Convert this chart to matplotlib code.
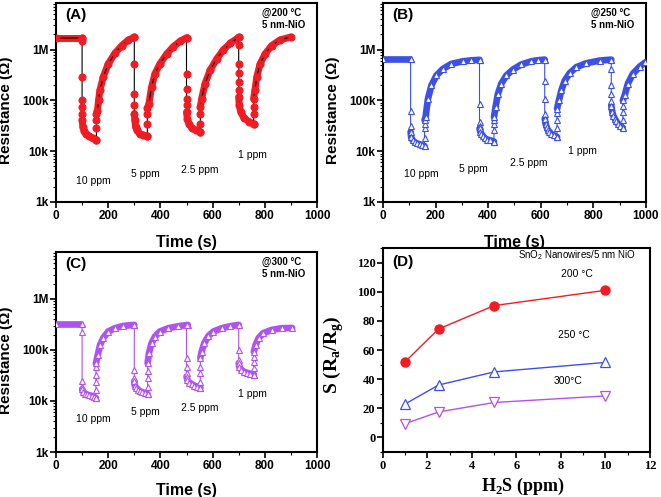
import matplotlib
matplotlib.use("Agg")
import matplotlib.pyplot as plt
from matplotlib.ticker import FixedLocator, MultipleLocator, LogLocator, NullFormatter

plt.rcParams['font.family'] = ['Liberation Sans', 'DejaVu Sans']

# ---- panel A : 200 C, red circles ----
A_BASE_T = [0, 100]
A_BASE_R = [1.70e6, 1.70e6]
A_ON = [100, 300, 500, 700]
A_DROP = [[1.70e6, 1.45e6, 290e3, 100e3, 74e3, 53e3, 41e3],
          [1.75e6, 525e3, 135e3, 80e3, 55e3],
          [1.72e6, 325e3, 170e3, 108e3, 80e3, 59e3],
          [1.78e6, 1.25e6, 525e3, 350e3, 230e3, 157e3, 117e3]]
A_TAIL_T = [[103, 108, 115, 125, 140, 155],
            [302, 305, 310, 320, 335, 350],
            [503, 510, 520, 535, 553],
            [702, 708, 720, 740, 757]]
A_TAIL_R = [[30e3, 25e3, 22e3, 20e3, 18e3, 17e3],
            [41e3, 30e3, 26e3, 22e3, 20.5e3, 19.5e3],
            [44e3, 34e3, 29e3, 26e3, 24e3],
            [80e3, 59e3, 45e3, 38e3, 34e3]]
A_OFF = [155, 350, 553, 757]
A_JUMP = [[17e3, 28e3, 41e3, 55e3],
          [19.5e3, 35e3, 55e3, 70e3],
          [24e3, 35e3, 55e3, 74e3],
          [34e3, 55e3, 74e3, 108e3]]
A_REC_T = [[159, 163, 168, 181, 200, 226, 252, 277, 300],
           [356, 366, 379, 398, 424, 449, 475, 500],
           [558, 571, 590, 616, 641, 667, 700],
           [762, 769, 782, 801, 826, 858, 900]]
A_REC_R = [[63e3, 100e3, 157e3, 287e3, 525e3, 850e3, 1.2e6, 1.55e6, 1.75e6],
           [86e3, 182e3, 334e3, 525e3, 823e3, 1.14e6, 1.46e6, 1.72e6],
           [108e3, 214e3, 390e3, 660e3, 990e3, 1.33e6, 1.75e6],
           [157e3, 287e3, 525e3, 823e3, 1.2e6, 1.55e6, 1.78e6]]

# ---- panel B : 250 C, blue triangles ----
B_BASE_T = [0, 105]
B_BASE_R = [640e3, 640e3]
B_ON = [105, 367, 615, 868]
B_DROP = [[640e3, 63e3, 31e3, 24e3],
          [630e3, 86e3, 38e3, 32e3, 28e3],
          [636e3, 245e3, 108e3, 55e3, 44e3],
          [636e3, 418e3, 197e3, 131e3, 97e3, 79e3]]
B_TAIL_T = [[107, 113, 120, 130, 140, 150, 158],
            [370, 374, 380, 387, 395, 406, 422],
            [618, 622, 627, 633, 640, 650, 662],
            [872, 876, 881, 887, 893, 902, 912]]
B_TAIL_R = [[19e3, 16.5e3, 15e3, 14.2e3, 13.6e3, 13e3, 12.6e3],
            [24e3, 22e3, 20e3, 18e3, 17e3, 16.5e3, 15.5e3],
            [35e3, 30e3, 26e3, 24e3, 22e3, 20.5e3, 19e3],
            [59e3, 50e3, 44e3, 39e3, 35e3, 32e3, 29e3]]
B_OFF = [158, 422, 662, 912]
B_JUMP = [[12.6e3, 18e3, 28e3, 35e3, 41e3],
          [15.5e3, 26e3, 35e3, 41e3, 47e3],
          [19e3, 28e3, 41e3, 56e3, 69e3],
          [29e3, 41e3, 59e3, 79e3, 100e3]]
B_REC_T = [[162, 171, 184, 203, 228, 260, 304, 335, 367],
           [428, 437, 450, 469, 494, 526, 564, 590, 615],
           [669, 678, 691, 710, 735, 773, 824, 868],
           [919, 931, 950, 976, 998]]
B_REC_R = [[47e3, 108e3, 197e3, 310e3, 418e3, 525e3, 590e3, 615e3, 630e3],
           [74e3, 135e3, 214e3, 310e3, 405e3, 510e3, 590e3, 620e3, 636e3],
           [100e3, 157e3, 245e3, 345e3, 452e3, 540e3, 610e3, 636e3],
           [126e3, 214e3, 334e3, 464e3, 565e3]]

# ---- panel C : 300 C, violet triangles ----
C_BASE_T = [0, 100]
C_BASE_R = [320e3, 320e3]
C_ON = [100, 300, 500, 700]
C_DROP = [[320e3, 230e3, 24.5e3, 19e3, 17e3],
          [310e3, 40.5e3, 28e3, 24.5e3],
          [310e3, 69e3, 47e3, 35e3, 30e3],
          [310e3, 100e3, 63e3, 55e3]]
C_TAIL_T = [[105, 110, 117, 127, 137, 145, 153],
            [302, 308, 315, 322, 331, 340, 351],
            [503, 510, 520, 530, 542, 553],
            [702, 710, 720, 730, 742, 758]]
C_TAIL_R = [[15e3, 14e3, 13.5e3, 13e3, 12.6e3, 12e3, 11.5e3],
            [20e3, 18e3, 16.6e3, 15.6e3, 14.9e3, 14.2e3, 13.5e3],
            [26e3, 23e3, 21.5e3, 20e3, 19e3, 18.3e3],
            [47e3, 40.5e3, 37.5e3, 36e3, 34.5e3, 33e3]]
C_OFF = [153, 351, 553, 758]
C_JUMP = [[11.5e3, 16.6e3, 24e3, 32e3, 47e3, 55e3],
          [13.5e3, 19e3, 28e3, 38e3, 55e3],
          [18.3e3, 24e3, 35e3, 47e3, 69e3],
          [33e3, 44e3, 59e3, 74e3, 93e3]]
C_REC_T = [[160, 169, 182, 200, 226, 258, 300],
           [356, 366, 379, 398, 430, 469, 505],
           [558, 568, 584, 603, 635, 667, 700],
           [765, 776, 794, 826, 864, 905]]
C_REC_R = [[80e3, 126e3, 175e3, 230e3, 267e3, 296e3, 310e3],
           [86e3, 135e3, 183e3, 230e3, 267e3, 292e3, 310e3],
           [93e3, 135e3, 188e3, 230e3, 267e3, 292e3, 310e3],
           [126e3, 170e3, 214e3, 247e3, 267e3, 270e3]]

# ---- panel D : sensitivity ----
D_PPM = [1, 2.5, 5, 10]
D_S200 = [52, 74.5, 90.5, 101]
D_S250 = [23, 36, 45, 51.5]
D_S300 = [9.5, 17.5, 24, 28.5]

PPM_LABELS = ['10 ppm', '5 ppm', '2.5 ppm', '1 ppm']

RED = '#f01c24'
BLUE = '#3c50e6'
VIOLET = '#b052f0'


def draw_response(ax, base_t, base_r, on, drop, tail_t, tail_r, off, jump,
                  rec_t, rec_r, color, line_color, marker, mfc, ms, band):
    t_all = list(base_t)
    r_all = list(base_r)
    ax.plot(base_t, base_r, color=color, lw=band, solid_capstyle='butt', zorder=2)
    for i in range(len(on)):
        t_all += [on[i]] * len(drop[i]) + tail_t[i] + [off[i]] * len(jump[i]) + rec_t[i]
        r_all += drop[i] + tail_r[i] + jump[i] + rec_r[i]
        ax.plot([on[i]] + tail_t[i], [drop[i][-1]] + tail_r[i], color=color, lw=band,
                solid_capstyle='round', zorder=2)
        ax.plot([off[i]] + rec_t[i], [jump[i][-1]] + rec_r[i], color=color, lw=band,
                solid_capstyle='round', zorder=2)
    ax.plot(t_all, r_all, color=line_color, lw=0.8, zorder=3)
    ax.plot(t_all, r_all, ls='none', marker=marker, ms=ms, mfc=mfc, mec=color,
            mew=0.8, zorder=4)


def style_resistance(ax, tag, temp, label_pos):
    ax.set_yscale('log')
    ax.set_xlim(0, 1000)
    ax.set_ylim(1e3, 8.3e6)
    ax.yaxis.set_major_locator(FixedLocator([1e3, 1e4, 1e5, 1e6]))
    ax.set_yticklabels(['1k', '10k', '100k', '1M'])
    ax.yaxis.set_minor_locator(LogLocator(base=10, subs=range(2, 10)))
    ax.yaxis.set_minor_formatter(NullFormatter())
    ax.xaxis.set_major_locator(MultipleLocator(200))
    ax.xaxis.set_minor_locator(MultipleLocator(100))
    ax.tick_params(which='major', direction='out', length=4, width=1.2,
                   labelsize=8.5, pad=1.5)
    ax.tick_params(which='minor', direction='out', length=2, width=0.8)
    for lab in ax.get_xticklabels() + ax.get_yticklabels():
        lab.set_fontweight('bold')
    for s in ax.spines.values():
        s.set_linewidth(1.5)
    ax.set_xlabel('Time (s)', fontsize=11.5, fontweight='bold')
    ax.set_ylabel('Resistance (\u03a9)', fontsize=11, fontweight='bold')
    ax.xaxis.set_label_coords(0.5, -0.165)
    ax.yaxis.set_label_coords(-0.165, 0.46)
    ax.text(0.035, 0.94, tag, transform=ax.transAxes, fontsize=11,
            fontweight='bold', va='center')
    ax.text(0.79, 0.95, '@' + temp + ' \u00b0C', transform=ax.transAxes,
            fontsize=7, fontweight='bold', va='center')
    ax.text(0.79, 0.89, '5 nm-NiO', transform=ax.transAxes,
            fontsize=7, fontweight='bold', va='center')
    for (x, y), s in zip(label_pos, PPM_LABELS):
        ax.text(x, y, s, fontsize=7.5, ha='center', va='center')


fig = plt.figure(figsize=(6.61, 4.97), dpi=100)
axA = fig.add_axes([0.0847, 0.5936, 0.3949, 0.4004])
axB = fig.add_axes([0.5794, 0.5936, 0.3979, 0.4004])
axC = fig.add_axes([0.0847, 0.0905, 0.3949, 0.4024])
axD = fig.add_axes([0.5794, 0.0905, 0.4039, 0.4104])

draw_response(axA, A_BASE_T, A_BASE_R, A_ON, A_DROP, A_TAIL_T, A_TAIL_R, A_OFF,
              A_JUMP, A_REC_T, A_REC_R, RED, 'black', 'o', RED, 5, 5)
style_resistance(axA, '(A)', '200',
                 [(142, 2.6e3), (341, 3.5e3), (552, 4.2e3), (751, 8.3e3)])

draw_response(axB, B_BASE_T, B_BASE_R, B_ON, B_DROP, B_TAIL_T, B_TAIL_R, B_OFF,
              B_JUMP, B_REC_T, B_REC_R, BLUE, BLUE, '^', 'white', 4.8, 4.8)
style_resistance(axB, '(B)', '250',
                 [(147, 3.5e3), (343, 4.4e3), (555, 5.8e3), (758, 10e3)])

draw_response(axC, C_BASE_T, C_BASE_R, C_ON, C_DROP, C_TAIL_T, C_TAIL_R, C_OFF,
              C_JUMP, C_REC_T, C_REC_R, VIOLET, VIOLET, '^', 'white', 4.8, 4.8)
style_resistance(axC, '(C)', '300',
                 [(142, 4.5e3), (341, 6.0e3), (552, 7.4e3), (751, 13.8e3)])
axC.xaxis.set_label_coords(0.5, -0.155)

# panel D
axD.plot(D_PPM, D_S200, color=RED, lw=1, marker='o', ms=6.5, mfc=RED, mec=RED)
axD.plot(D_PPM, D_S250, color=BLUE, lw=1, marker='^', ms=7, mfc='white',
         mec=BLUE, mew=0.9)
axD.plot(D_PPM, D_S300, color=VIOLET, lw=1, marker='v', ms=7, mfc='white',
         mec=VIOLET, mew=0.9)
axD.set_xlim(0, 12)
axD.set_ylim(-10, 130)
axD.xaxis.set_major_locator(MultipleLocator(2))
axD.xaxis.set_minor_locator(MultipleLocator(1))
axD.yaxis.set_major_locator(FixedLocator([0, 20, 40, 60, 80, 100, 120]))
axD.yaxis.set_minor_locator(MultipleLocator(10))
axD.tick_params(which='major', direction='out', length=4, width=1.2,
                labelsize=9, pad=1.5)
axD.tick_params(which='minor', direction='out', length=2, width=0.8)
for lab in axD.get_xticklabels() + axD.get_yticklabels():
    lab.set_fontfamily('Liberation Serif')
    lab.set_fontweight('bold')
for s in axD.spines.values():
    s.set_linewidth(1.5)
axD.set_xlabel('H$_\\mathregular{2}$S (ppm)', fontsize=13, fontweight='bold',
               family='Liberation Serif')
axD.set_ylabel('S (R$_\\mathregular{a}$/R$_\\mathregular{g}$)', fontsize=14,
               fontweight='bold', family='Liberation Serif')
axD.xaxis.set_label_coords(0.524, -0.115)
axD.yaxis.set_label_coords(-0.14, 0.475)
axD.text(0.035, 0.93, '(D)', transform=axD.transAxes, fontsize=11,
         fontweight='bold', va='center')
axD.text(0.505, 0.965, 'SnO$_\\mathregular{2}$ Nanowires/5 nm NiO',
         transform=axD.transAxes, fontsize=7, va='center')
axD.text(8.7, 112, '200 \u00b0C', fontsize=7.5, ha='center', va='center')
axD.text(8.6, 70, '250 \u00b0C', fontsize=7.5, ha='center', va='center')
axD.text(8.3, 39, '300\u00b0C', fontsize=7.5, ha='center', va='center')

fig.savefig('out.png', dpi=100)
